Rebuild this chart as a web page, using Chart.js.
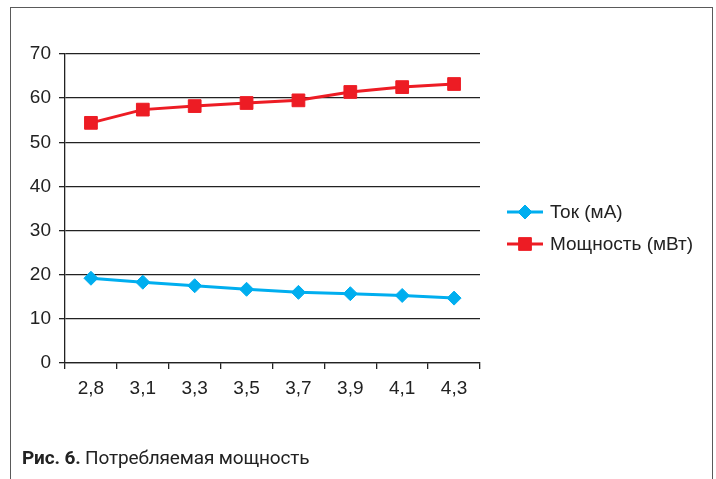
<!DOCTYPE html>
<html>
<head>
<meta charset="utf-8">
<script src="https://cdn.jsdelivr.net/npm/chart.js@4/dist/chart.umd.min.js"></script>
<style>
  html, body { margin: 0; padding: 0; background: #fff; }
  #wrap { position: relative; width: 716px; height: 479px; overflow: hidden; background: #fff; }
  #frame { position: absolute; left: 10px; top: 7px; width: 703px; height: 520px;
           border: 1.5px solid #5a5a5a; box-sizing: border-box; }
  #chart { position: absolute; left: 0; top: 0; }
  #caption { position: absolute; left: 22px; top: 448px; font-family: "Roboto", "Noto Sans", sans-serif;
             font-size: 19px; line-height: 19px; letter-spacing: -0.15px; color: #222; white-space: nowrap; }
  #caption b { font-weight: bold; }
</style>
</head>
<body>
<div id="wrap">
  <div id="frame"></div>
  <canvas id="chart" width="716" height="479"></canvas>
  <div id="caption"><b>Рис. 6.</b> Потребляемая мощность</div>
</div>
<script>
// Supply voltage, V
const categories = ['2,8', '3,1', '3,3', '3,5', '3,7', '3,9', '4,1', '4,3'];
// Current draw, mA
const currentMA = [19.2, 18.3, 17.5, 16.7, 16.0, 15.7, 15.3, 14.7];
// Power draw, mW
const powerMW = [54.4, 57.4, 58.2, 58.9, 59.5, 61.4, 62.5, 63.2];
const seriesLabels = ['Ток (мА)', 'Мощность (мВт)'];
const yTicks = [0, 10, 20, 30, 40, 50, 60, 70];

const BLUE = '#00AEEF';
const RED = '#ED1C24';
const INK = '#222222';
const FONT = { family: '"Liberation Sans", Arial, sans-serif', size: 19 };

// Line-with-marker legend on the right side
const sideLegend = {
  id: 'sideLegend',
  afterDraw(chart) {
    const ctx = chart.ctx;
    const rows = [212, 244];
    ctx.save();
    chart.data.datasets.forEach((ds, i) => {
      const y = rows[i];
      ctx.strokeStyle = ds.borderColor;
      ctx.lineWidth = 3;
      ctx.beginPath();
      ctx.moveTo(507, y);
      ctx.lineTo(543, y);
      ctx.stroke();
      ctx.fillStyle = ds.pointBackgroundColor;
      ctx.strokeStyle = ds.pointBorderColor;
      ctx.lineWidth = 1;
      Chart.helpers.drawPoint(ctx, {
        pointStyle: ds.pointStyle, radius: ds.pointRadius, rotation: 0, borderWidth: 1
      }, 525, y);
      ctx.fillStyle = INK;
      ctx.font = FONT.size + 'px ' + FONT.family;
      ctx.textAlign = 'left';
      ctx.textBaseline = 'middle';
      ctx.fillText(ds.label, 550, y + 1);
    });
    ctx.restore();
  }
};

new Chart(document.getElementById('chart'), {
  type: 'line',
  data: {
    labels: categories,
    datasets: [
      {
        label: seriesLabels[0],
        data: currentMA,
        borderColor: BLUE,
        backgroundColor: BLUE,
        pointBackgroundColor: BLUE,
        pointBorderColor: BLUE,
        borderWidth: 3,
        pointStyle: 'rectRot',
        pointRadius: 7,
        pointBorderWidth: 1,
        tension: 0
      },
      {
        label: seriesLabels[1],
        data: powerMW,
        borderColor: RED,
        backgroundColor: RED,
        pointBackgroundColor: RED,
        pointBorderColor: RED,
        borderWidth: 3,
        pointStyle: 'rect',
        pointRadius: 9,
        pointBorderWidth: 1,
        tension: 0
      }
    ]
  },
  options: {
    responsive: false,
    animation: false,
    layout: { padding: { left: 0, right: 236, top: 54, bottom: 0 } },
    plugins: { legend: { display: false }, tooltip: { enabled: false } },
    scales: {
      x: {
        type: 'category',
        offset: true,
        afterFit(scale) { scale.height = 116; },
        grid: { offset: true, drawOnChartArea: false, drawTicks: true, tickLength: 6, color: INK, lineWidth: 1.3 },
        border: { display: true, color: INK, width: 1.3 },
        ticks: { color: INK, font: FONT, padding: 8, maxRotation: 0, autoSkip: false }
      },
      y: {
        min: yTicks[0],
        max: yTicks[yTicks.length - 1],
        afterFit(scale) { scale.width = 65; },
        afterBuildTicks(scale) { scale.ticks = yTicks.map(v => ({ value: v })); },
        grid: { color: INK, lineWidth: 1.3, drawTicks: true, tickLength: 6 },
        border: { display: true, color: INK, width: 1.3 },
        ticks: { color: INK, font: FONT, padding: 8 }
      }
    }
  },
  plugins: [sideLegend]
});
</script>
</body>
</html>
